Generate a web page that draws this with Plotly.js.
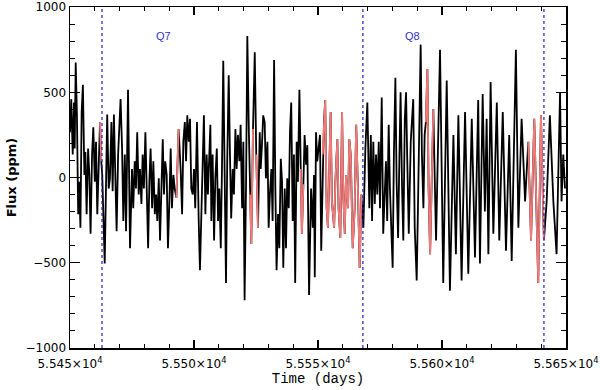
<!DOCTYPE html>
<html>
<head>
<meta charset="utf-8">
<script src="https://cdn.plot.ly/plotly-3.0.1.min.js"></script>
<style>
  html, body { margin: 0; padding: 0; background: #fff; }
  #plot { width: 600px; height: 390px; }
</style>
</head>
<body>
<div id="plot"></div>
<script>
// epoch of the time axis (days)
var t0 = 55450;

// time since t0 (days) and flux (ppm)
var dayOffset = [
  0.0, 0.5, 1.1, 1.6, 1.9, 2.3, 2.8, 3.3, 3.7, 4.2, 4.7, 5.2, 5.8, 6.2, 6.7, 7.3, 7.8, 8.3, 8.9, 9.4,
  10.0, 10.5, 11.0, 11.6, 12.1, 12.6, 13.0, 14.0, 14.5, 15.0, 15.6, 16.1, 16.7, 17.2, 17.7, 18.3, 18.8, 19.4,
  20.0, 20.4, 21.0, 21.5, 22.1, 22.6, 23.4, 24.2, 25.0,
  25.5, 26.1, 26.6, 27.1, 27.7, 28.2, 28.8, 29.3, 29.8, 30.4, 30.9, 31.5, 32.0, 32.5, 33.1, 33.6, 34.2, 34.7,
  35.2, 35.8, 36.3, 36.8, 37.4, 37.9, 38.4, 39.0, 39.5, 40.0, 40.6, 41.1, 41.7, 42.2, 42.9, 43.8, 44.6, 45.2,
  45.7, 46.3, 46.8, 47.3, 47.9, 48.4, 48.9,
  49.5, 50.0, 50.5, 51.2, 51.9, 52.4, 52.9, 53.5, 54.0, 54.6, 55.1, 55.6, 56.2, 56.6, 57.0, 57.5, 58.1, 58.6,
  59.2, 59.7, 60.2, 60.8, 61.3, 61.8, 62.4, 62.9, 63.4, 64.0, 64.5, 65.0, 65.6, 66.1, 66.7, 67.2, 67.7, 68.3,
  68.8, 69.4, 69.9, 70.4, 71.0, 71.5, 72.1, 72.6,
  73.1, 73.8, 74.5, 75.1, 75.8, 76.5, 76.9, 77.4, 77.9, 78.5, 79.0, 79.6, 80.1, 80.6, 81.2, 81.7, 82.3, 82.8,
  83.3, 83.9, 84.4, 85.0, 85.5, 86.0, 86.6, 87.1, 87.6, 88.2, 88.7, 89.2, 89.8, 90.3, 90.8, 91.4, 91.9, 92.5,
  93.0, 93.5, 94.1, 94.6, 95.2, 95.7, 96.4,
  97.2, 97.9, 98.4, 98.7, 99.2, 99.7, 100.3, 100.8, 101.3, 101.9, 102.4, 102.9, 103.5, 104.0, 104.6, 105.1,
  105.6, 106.5, 107.0, 107.8, 108.3, 109.0, 109.7, 110.2, 110.8, 111.3, 112.1, 112.6, 113.2, 114.0, 114.8,
  115.4, 116.1, 116.8, 117.5, 118.3, 119.1, 119.9,
  120.7, 121.3, 121.8, 122.3, 122.9, 123.4, 123.9, 124.5, 125.0, 125.7, 126.3, 126.9, 127.4, 127.9, 128.5,
  129.0, 129.6, 130.1, 130.6, 131.2, 131.7, 132.3, 132.8, 133.3, 133.9, 134.4, 135.0, 135.5, 136.0, 136.6,
  137.4, 137.9, 138.4, 139.0, 139.8, 140.3, 140.8, 141.4, 141.9, 142.5, 143.0, 143.5, 144.1, 144.6, 145.2,
  146.5, 147.6, 149.2, 150.5, 151.9, 153.2, 154.6, 155.6, 156.6, 157.9, 159.3, 160.6, 162.0, 163.3, 164.6,
  165.3, 166.4, 167.3, 168.0, 168.7, 169.6, 170.7, 172.1, 173.1, 174.5, 175.8, 177.1, 178.1, 179.8, 180.8,
  182.1, 183.5, 184.8, 185.9, 187.2, 188.8, 189.9, 191.1, 192.2, 193.5, 194.9, 196.2, 197.6, 198.2, 198.9, 199.6
];

var flux = [
  265, 460, 135, 440, 170, 675, 365, -215, -25, -295, 385, 545, 15, 150, -215, 170, 15, -330, 135, 295,
  -25, 210, -215, 50, 325, 95, 15, -505, -25, 370, -65, -5, 325, -80, 370, 15, -315, 135,
  345, 460, 170, -255, 135, -315, 515, -415, 50,
  -180, 95, -65, 265, -100, 50, -155, 135, -65, 265, -5, -415, -25, 170, -180, 95, -215, -100,
  -255, -5, -370, -65, 225, -100, 95, 15, -415, -180, 170, -180, 15, -65, -120, 285, 50, -215,
  210, 325, 95, 365, 210, 345, -65,
  -100, 50, -180, 325, -255, -545, -255, 50, 365, -215, 135, -100, 170, 310, -255, 135, -370, -5,
  170, -255, -65, -415, 75, 685, -25, -620, 95, 600, 135, -240, 50, -100, 285, 50, 250, 95,
  310, -180, 210, -720, -25, 830, 285, -100,
  -390, 285, 735, 135, -295, 265, 50, 190, 365, 325, -5, 210, -295, -100, 50, -255, 690, -65,
  -545, -215, -415, 110, -25, -530, -65, -415, -5, -180, 265, 440, -255, 135, -620, 210, -25, 515,
  50, -330, -40, 250, 75, 190, -690,
  -65, -295, 15, -585, 265, 95, 210, 250, -430, 135, 325, 455, -180, -295, 95, 385,
  -140, -295, -25, 225, -180, -355, 385, -100, -330, 15, -180, 225, 135, -415, -180,
  310, -65, -530, -100, -295, 170, 440,
  -180, 250, -255, 210, -155, 135, -100, 210, -180, 470, -330, -65, 95, -255, 310,
  -65, -370, -530, 135, 585, -25, -355, 95, 500, -65, -370, 345, 500, 95, -330,
  210, 365, 460, -295, -605, -180, 210, 780, 135, -180, 250, 325, 635, -65, -450,
  400, -370, 750, -620, 570, -665, 250, -450, 365, -605, 385, -565, 345, -470, 455,
  -505, 490, -200, 345, -450, 560, -330, 440, -370, 385, -430, 250, -490, 750, -295,
  345, -140, 210, -370, 345, -620, 365, -370, -140, 365, -140, -450, 500, -140, 135, -65
];

// stretches drawn in red (start, end), days
var redRanges = [
  [55461.9, 55462.7],
  [55492.8, 55493.9],
  [55522.5, 55524.0],
  [55525.1, 55525.8],
  [55543.0, 55544.1],
  [55551.9, 55567.6],
  [55593.5, 55596.5],
  [55634.7, 55641.2]
];

// quarter boundaries and labels
var quarterEdges = [55462.9, 55568.1, 55641.1];
var quarterNames = ["Q7", "Q8"];
var quarterLabelTimes = [55487.5, 55588.3];
var quarterLabelFlux = 830;

var xTickVals = [55450, 55500, 55550, 55600, 55650];
var xTickText = ["5.545×10<sup>4</sup>", "5.550×10<sup>4</sup>", "5.555×10<sup>4</sup>",
                 "5.560×10<sup>4</sup>", "5.565×10<sup>4</sup>"];
var yTickVals = [-1000, -500, 0, 500, 1000];

var time = dayOffset.map(d => t0 + d);

var data = [{
  x: time,
  y: flux,
  type: "scatter",
  mode: "lines",
  line: {color: "black", width: 1.8},
  hoverinfo: "skip"
}];

redRanges.forEach(function (r) {
  var xs = [], ys = [];
  time.forEach(function (t, i) {
    if (t >= r[0] && t <= r[1]) { xs.push(t); ys.push(flux[i]); }
  });
  data.push({
    x: xs, y: ys, type: "scatter", mode: "lines",
    line: {color: "#f47a7a", width: 1.8},
    hoverinfo: "skip"
  });
});

var shapes = quarterEdges.map(function (t) {
  return {type: "line", xref: "x", yref: "paper", x0: t, x1: t, y0: 0, y1: 1,
          line: {color: "#2020c0", width: 1.2, dash: "dot"}};
});

var annotations = quarterNames.map(function (q, i) {
  return {x: quarterLabelTimes[i], y: quarterLabelFlux, xref: "x", yref: "y",
          text: q, showarrow: false,
          font: {family: "Liberation Sans", size: 11, color: "#3030d0"}};
});

var axisCommon = {
  showgrid: false, zeroline: false,
  showline: true, linecolor: "black", linewidth: 1.5, mirror: "ticks",
  ticks: "inside", tickcolor: "black", tickwidth: 1.2,
  ticklabeloverflow: "allow",
  tickfont: {family: "DejaVu Sans", size: 12, color: "black"}
};

var layout = {
  width: 600, height: 390,
  margin: {l: 70, r: 34, t: 7, b: 42},
  paper_bgcolor: "white", plot_bgcolor: "white",
  showlegend: false,
  xaxis: Object.assign({}, axisCommon, {
    range: [55450, 55650],
    tickmode: "array", tickvals: xTickVals, ticktext: xTickText, ticklen: 8,
    ticklabelstandoff: 4,
    minor: {ticks: "inside", tick0: 55450, dtick: 10, ticklen: 4, tickcolor: "black", tickwidth: 1},
    title: {text: "Time (days)", font: {family: "Liberation Mono", size: 14, color: "black"}, standoff: 0}
  }),
  yaxis: Object.assign({}, axisCommon, {
    range: [-1001, 1001],
    tickmode: "array", tickvals: yTickVals, ticklen: 10,
    minor: {ticks: "inside", tick0: -1000, dtick: 100, ticklen: 5, tickcolor: "black", tickwidth: 1},
    title: {text: "Flux (ppm)", font: {family: "DejaVu Sans", size: 13, weight: "bold", color: "black"}, standoff: 6}
  }),
  shapes: shapes,
  annotations: annotations
};

Plotly.newPlot("plot", data, layout, {staticPlot: true, displayModeBar: false});
</script>
</body>
</html>
